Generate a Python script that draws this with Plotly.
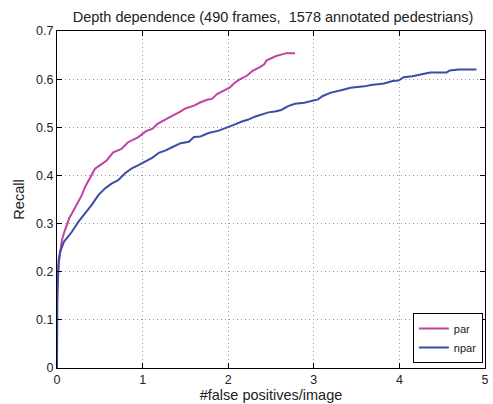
import plotly.graph_objects as go

title_text = "Depth dependence (490 frames,  1578 annotated pedestrians)"
x_label = "#false positives/image"
y_label = "Recall"
x_ticks = [0, 1, 2, 3, 4, 5]
y_ticks = [0, 0.1, 0.2, 0.3, 0.4, 0.5, 0.6, 0.7]
y_tick_text = ["0", "0.1", "0.2", "0.3", "0.4", "0.5", "0.6", "0.7"]

par_fp = [0.0, 0.005, 0.012, 0.02, 0.04, 0.058, 0.09, 0.116, 0.145, 0.174, 0.2, 0.232, 0.26,
          0.29, 0.328, 0.36, 0.386, 0.444, 0.50, 0.58, 0.657, 0.753, 0.83, 0.946, 1.04,
          1.116, 1.174, 1.27, 1.35, 1.425, 1.50, 1.60, 1.677, 1.753, 1.81, 1.87, 1.947,
          2.02, 2.08, 2.14, 2.217, 2.29, 2.37, 2.42, 2.45, 2.506, 2.56, 2.62, 2.68, 2.78]
par_recall = [0.14, 0.16, 0.18, 0.215, 0.245, 0.266, 0.285, 0.30, 0.312, 0.321, 0.33, 0.342, 0.35,
              0.359, 0.376, 0.386, 0.394, 0.414, 0.421, 0.431, 0.448, 0.455, 0.469, 0.479, 0.492,
              0.497, 0.507, 0.517, 0.524, 0.531, 0.539, 0.545, 0.552, 0.557, 0.559, 0.569, 0.576,
              0.583, 0.593, 0.600, 0.607, 0.618, 0.625, 0.631, 0.639, 0.644, 0.648, 0.651, 0.654, 0.654]

npar_fp = [0.0, 0.0, 0.005, 0.01, 0.02, 0.035, 0.058, 0.08, 0.116, 0.174, 0.251, 0.328, 0.406,
           0.483, 0.56, 0.637, 0.714, 0.792, 0.869, 0.946, 1.04, 1.116, 1.19, 1.27, 1.35,
           1.445, 1.54, 1.60, 1.677, 1.77, 1.89, 2.0, 2.08, 2.16, 2.236, 2.31, 2.39, 2.47,
           2.546, 2.62, 2.70, 2.78, 2.89, 2.99, 3.05, 3.105, 3.20, 3.32, 3.43, 3.59, 3.67,
           3.82, 3.92, 3.99, 4.05, 4.15, 4.24, 4.36, 4.55, 4.59, 4.69, 4.90]
npar_recall = [0.0, 0.13, 0.16, 0.19, 0.225, 0.24, 0.253, 0.262, 0.27, 0.283, 0.304, 0.321, 0.339,
               0.359, 0.373, 0.383, 0.390, 0.404, 0.414, 0.421, 0.430, 0.437, 0.447, 0.452, 0.459,
               0.467, 0.470, 0.480, 0.481, 0.488, 0.493, 0.500, 0.506, 0.512, 0.516, 0.522, 0.526, 0.531,
               0.533, 0.536, 0.544, 0.549, 0.551, 0.555, 0.558, 0.565, 0.572, 0.577, 0.582, 0.585, 0.588,
               0.591, 0.596, 0.597, 0.604, 0.606, 0.610, 0.614, 0.614, 0.618, 0.620, 0.620]

font_family = "Liberation Sans, Arial, sans-serif"

fig = go.Figure()
fig.add_trace(go.Scatter(x=par_fp, y=par_recall, mode="lines", name="par",
                         line=dict(color="#c2429f", width=2)))
fig.add_trace(go.Scatter(x=npar_fp, y=npar_recall, mode="lines", name="npar",
                         line=dict(color="#3a4ea8", width=2)))

axis_common = dict(
    showline=True, linecolor="black", linewidth=1, mirror="ticks",
    ticks="inside", ticklen=5, tickcolor="black",
    showgrid=True, gridcolor="#9a9a9a", griddash="1px,3px", gridwidth=1,
    zeroline=False,
    tickfont=dict(family=font_family, size=12.5, color="#222222"),
)

fig.update_xaxes(range=[0, 5], tickvals=x_ticks, ticktext=[str(t) for t in x_ticks],
                 title=dict(text=x_label, font=dict(family=font_family, size=14.5, color="#222222"),
                            standoff=3),
                 **axis_common)
fig.update_yaxes(range=[0, 0.7], tickvals=y_ticks, ticktext=y_tick_text,
                 title=dict(text=y_label, font=dict(family=font_family, size=14.5, color="#222222"),
                            standoff=8),
                 **axis_common)

fig.update_layout(
    width=493, height=404,
    margin=dict(l=57, r=4, t=31, b=34),
    paper_bgcolor="white", plot_bgcolor="white",
    title=dict(text=title_text, x=(57 + 489) / 2 / 493, xanchor="center",
               y=1 - 17 / 404, yanchor="middle", yref="container",
               font=dict(family=font_family, size=14.5, color="#222222")),
    legend=dict(x=0.995, y=0.015, xanchor="right", yanchor="bottom",
                bgcolor="white", bordercolor="black", borderwidth=1,
                font=dict(family=font_family, size=11, color="#222222"),
                itemwidth=30, tracegroupgap=0),
    showlegend=True,
)

fig.write_html("out.html")
